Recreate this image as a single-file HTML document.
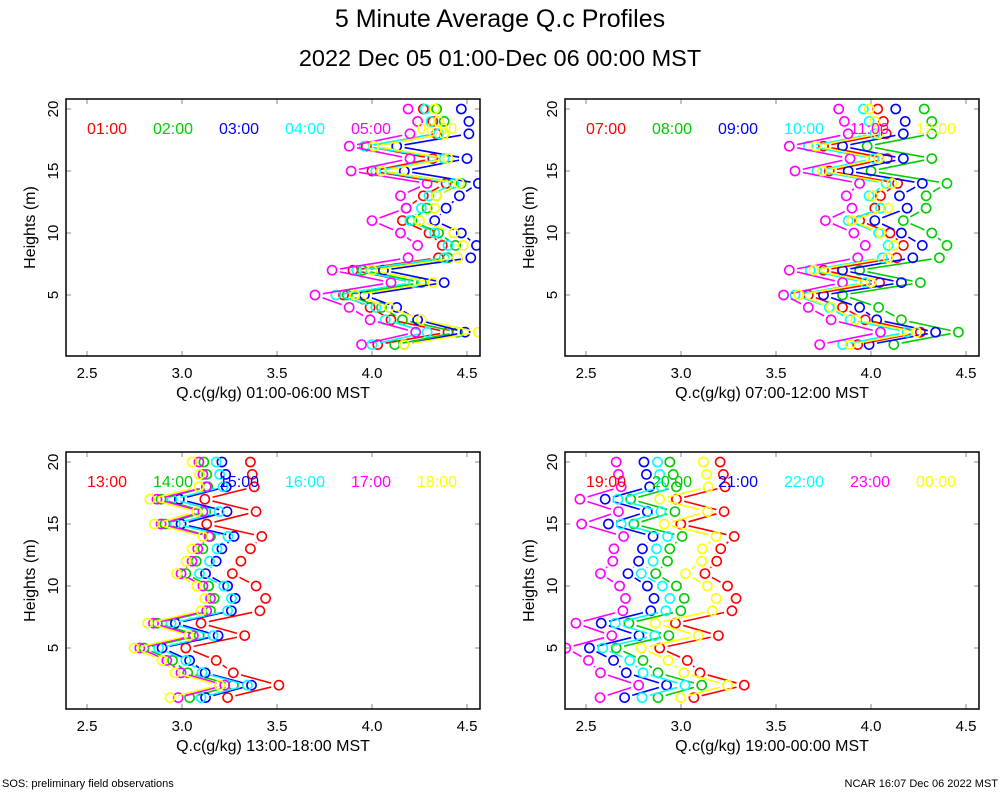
<!DOCTYPE html>
<html><head><meta charset="utf-8">
<style>
html,body{margin:0;padding:0;background:#fff;}
svg{display:block;font-family:"Liberation Sans",sans-serif;}
</style></head>
<body>
<svg id="chart" width="1000" height="800" viewBox="0 0 1000 800" xmlns="http://www.w3.org/2000/svg">
<text x="500" y="27" text-anchor="middle" font-size="25">5 Minute Average Q.c Profiles</text>
<text x="500" y="66" text-anchor="middle" font-size="23.5">2022 Dec 05 01:00-Dec 06 00:00 MST</text>
<text x="2" y="787" font-size="11">SOS: preliminary field observations</text>
<text x="998" y="787" text-anchor="end" font-size="11">NCAR 16:07 Dec 06 2022 MST</text>
</svg>
<script>
const heights = [1,2,3,4,5,6,7,8,9,10,11,12,13,14,15,16,17,18,19,20];
const xTicks = [2.5,3.0,3.5,4.0,4.5];
const yTicks = [5,10,15,20];
const colors = ["#ff0000","#00cc00","#0000ff","#00ffff","#ff00ff","#ffff00"];
const p1Labels = ["01:00","02:00","03:00","04:00","05:00","06:00"];
const p2Labels = ["07:00","08:00","09:00","10:00","11:00","12:00"];
const p3Labels = ["13:00","14:00","15:00","16:00","17:00","18:00"];
const p4Labels = ["19:00","20:00","21:00","22:00","23:00","00:00"];
const xTitles = ["Q.c(g/kg) 01:00-06:00 MST","Q.c(g/kg) 07:00-12:00 MST","Q.c(g/kg) 13:00-18:00 MST","Q.c(g/kg) 19:00-00:00 MST"];

const p1_0100 = [4.03,4.40,4.10,3.99,3.85,4.22,3.90,4.35,4.37,4.30,4.16,4.18,4.27,4.39,4.00,4.32,3.97,4.34,4.32,4.27];
const p1_0200 = [4.12,4.45,4.16,4.05,3.87,4.26,3.95,4.40,4.44,4.35,4.21,4.29,4.34,4.47,4.05,4.38,4.01,4.38,4.38,4.34];
const p1_0300 = [4.17,4.49,4.24,4.13,3.96,4.38,4.06,4.52,4.55,4.47,4.33,4.39,4.46,4.56,4.17,4.50,4.13,4.51,4.51,4.47];
const p1_0400 = [4.00,4.29,4.07,4.02,3.81,4.22,3.92,4.38,4.40,4.33,4.20,4.26,4.30,4.43,4.02,4.38,3.96,4.35,4.31,4.28];
const p1_0500 = [3.945,4.23,3.99,3.88,3.70,4.10,3.79,4.19,4.24,4.15,4.00,4.18,4.15,4.29,3.89,4.20,3.88,4.20,4.24,4.19];
const p1_0600 = [4.17,4.56,4.26,4.09,3.91,4.32,4.00,4.45,4.48,4.43,4.25,4.33,4.34,4.46,4.05,4.40,4.01,4.38,4.35,4.33];

const p2_0700 = [3.93,4.26,3.97,3.85,3.67,4.045,3.75,4.135,4.17,4.10,3.94,4.02,4.05,4.14,3.78,4.085,3.75,4.08,4.065,4.035];
const p2_0800 = [4.12,4.46,4.16,4.04,3.85,4.26,3.94,4.36,4.40,4.32,4.17,4.29,4.29,4.40,4.00,4.32,3.98,4.32,4.32,4.28];
const p2_0900 = [3.99,4.34,4.03,3.94,3.75,4.16,3.85,4.22,4.27,4.16,4.02,4.19,4.15,4.27,3.88,4.17,3.85,4.17,4.18,4.13];
const p2_1000 = [3.85,4.19,3.89,3.78,3.60,3.97,3.68,4.06,4.09,4.04,3.88,4.05,3.99,4.08,3.715,4.015,3.67,4.02,3.99,3.96];
const p2_1100 = [3.73,4.05,3.79,3.67,3.54,3.85,3.57,3.93,3.97,3.91,3.76,3.90,3.87,3.94,3.60,3.89,3.57,3.88,3.86,3.83];
const p2_1200 = [3.89,4.24,3.92,3.79,3.62,4.00,3.70,4.09,4.12,4.05,3.90,4.09,4.01,4.11,3.745,4.04,3.71,4.04,4.02,3.99];

const p3_1300 = [3.24,3.51,3.27,3.18,3.02,3.33,3.10,3.41,3.44,3.39,3.265,3.31,3.36,3.42,3.13,3.39,3.12,3.38,3.37,3.36];
const p3_1400 = [3.04,3.27,3.03,2.95,2.80,3.09,2.87,3.15,3.17,3.14,3.02,3.075,3.11,3.15,2.91,3.125,2.89,3.136,3.13,3.115];
const p3_1500 = [3.124,3.366,3.122,3.04,2.895,3.19,2.965,3.26,3.28,3.24,3.124,3.18,3.21,3.274,2.995,3.237,2.986,3.233,3.23,3.21];
const p3_1600 = [3.10,3.344,3.105,3.02,2.877,3.163,2.942,3.24,3.26,3.22,3.092,3.145,3.184,3.242,2.965,3.195,2.948,3.216,3.198,3.18];
const p3_1700 = [2.98,3.225,2.995,2.92,2.778,3.06,2.85,3.13,3.15,3.11,2.995,3.053,3.083,3.142,2.89,3.11,2.868,3.128,3.11,3.089];
const p3_1800 = [2.937,3.198,2.963,2.895,2.748,3.036,2.819,3.101,3.119,3.078,2.972,3.022,3.053,3.11,2.854,3.078,2.831,3.089,3.092,3.053];

const p4_1900 = [3.068,3.333,3.10,3.033,2.888,3.197,2.971,3.268,3.29,3.245,3.126,3.188,3.209,3.28,2.999,3.227,2.976,3.232,3.223,3.206];
const p4_2000 = [2.879,3.109,2.879,2.80,2.659,2.936,2.726,2.999,3.017,2.976,2.867,2.929,2.941,3.006,2.752,2.968,2.735,2.976,2.959,2.941];
const p4_2100 = [2.703,2.924,2.712,2.645,2.518,2.779,2.58,2.841,2.858,2.823,2.721,2.777,2.797,2.853,2.618,2.823,2.601,2.835,2.818,2.805];
const p4_2200 = [2.795,3.021,2.80,2.73,2.588,2.862,2.654,2.92,2.941,2.902,2.791,2.853,2.871,2.929,2.685,2.894,2.668,2.897,2.888,2.876];
const p4_2300 = [2.574,2.777,2.576,2.513,2.394,2.636,2.447,2.694,2.708,2.677,2.576,2.641,2.647,2.698,2.477,2.671,2.468,2.685,2.671,2.659];
const p4_0000 = [2.999,3.245,3.015,2.932,2.791,3.091,2.865,3.165,3.185,3.139,3.024,3.109,3.112,3.185,2.911,3.139,2.888,3.144,3.135,3.118];

const NS = "http://www.w3.org/2000/svg";
const svg = document.getElementById("chart");
function mk(tag, attrs, parent){
  const e = document.createElementNS(NS, tag);
  for (const k in attrs) e.setAttribute(k, attrs[k]);
  (parent||svg).appendChild(e);
  return e;
}
const PW = 414, PH = 257;
const panels = [
  {x0:66, y0:99, labels:p1Labels, series:[p1_0100,p1_0200,p1_0300,p1_0400,p1_0500,p1_0600], title:xTitles[0]},
  {x0:565, y0:99, labels:p2Labels, series:[p2_0700,p2_0800,p2_0900,p2_1000,p2_1100,p2_1200], title:xTitles[1]},
  {x0:66, y0:452, labels:p3Labels, series:[p3_1300,p3_1400,p3_1500,p3_1600,p3_1700,p3_1800], title:xTitles[2]},
  {x0:565, y0:452, labels:p4Labels, series:[p4_1900,p4_2000,p4_2100,p4_2200,p4_2300,p4_0000], title:xTitles[3]}
];
panels.forEach((p, pi) => {
  const xs = v => p.x0 + 21 + (v - 2.5) * 190;
  const ys = h => p.y0 + 10 + (20 - h) * 12.4;
  const g = mk("g", {});
  
  
  const cp = mk("clipPath", {id:"clip"+pi}, g);
  mk("rect", {x:p.x0, y:p.y0, width:PW, height:PH}, cp);
  xTicks.forEach(t => {
    const x = xs(t);
    const tk = mk("line", {x1:x, x2:x, y1:p.y0+PH, y2:p.y0+PH-5, stroke:"#888", "stroke-width":1}, g);
    
    
    mk("line", {x1:x, x2:x, y1:p.y0, y2:p.y0+5, stroke:"#888", "stroke-width":1}, g);
    const tl = mk("text", {x:x, y:p.y0+PH+22, "text-anchor":"middle", "font-size":15}, g);
    tl.textContent = t.toFixed(1);
    
    
  });
  yTicks.forEach(t => {
    const y = ys(t);
    const tk = mk("line", {x1:p.x0, x2:p.x0+5, y1:y, y2:y, stroke:"#888", "stroke-width":1}, g);
    
    
    mk("line", {x1:p.x0+PW, x2:p.x0+PW-5, y1:y, y2:y, stroke:"#888", "stroke-width":1}, g);
    const tl = mk("text", {x:0, y:0, "text-anchor":"middle", "font-size":15, transform:"translate("+(p.x0-8)+","+y+") rotate(-90)"}, g);
    tl.textContent = String(t);
    
    
  });
  const yl = mk("text", {x:0, y:0, "text-anchor":"middle", "font-size":16, transform:"translate("+(p.x0-31)+","+(p.y0+PH/2)+") rotate(-90)"}, g);
  yl.textContent = "Heights (m)";
  
  
  const xl = mk("text", {x:p.x0+PW/2, y:p.y0+PH+42, "text-anchor":"middle", "font-size":16}, g);
  xl.textContent = p.title;
  
  
  const dg = mk("g", {"clip-path":"url(#clip"+pi+")"}, g);
  p.series.forEach((vals, si) => {
    const sg = mk("g", {stroke:colors[si], fill:"none", "stroke-width":1.6}, dg);
    
    
    for (let i = 0; i < vals.length - 1; i++) {
      const ax = xs(vals[i]), ay = ys(heights[i]), bx = xs(vals[i+1]), by = ys(heights[i+1]);
      const dx = bx-ax, dy = by-ay, L = Math.hypot(dx,dy), gap = 8;
      if (L > 2*gap) {
        const ux = dx/L, uy = dy/L;
        const seg = mk("line", {x1:ax+ux*gap, y1:ay+uy*gap, x2:bx-ux*gap, y2:by-uy*gap}, sg);
        
        
      }
    }
    vals.forEach((v, i) => {
      const c = mk("circle", {cx:xs(v), cy:ys(heights[i]), r:4.6}, sg);
      
      
    });
  });
  p.labels.forEach((lab, si) => {
    const lt = mk("text", {x:p.x0+21+si*66, y:p.y0+35, "font-size":16, fill:colors[si]}, g);
    lt.textContent = lab;
    
    
  });
  const fr = mk("rect", {x:p.x0, y:p.y0, width:PW, height:PH, fill:"none", stroke:"#000", "stroke-width":1.5}, g);
  
  
});
</script>
</body></html>
